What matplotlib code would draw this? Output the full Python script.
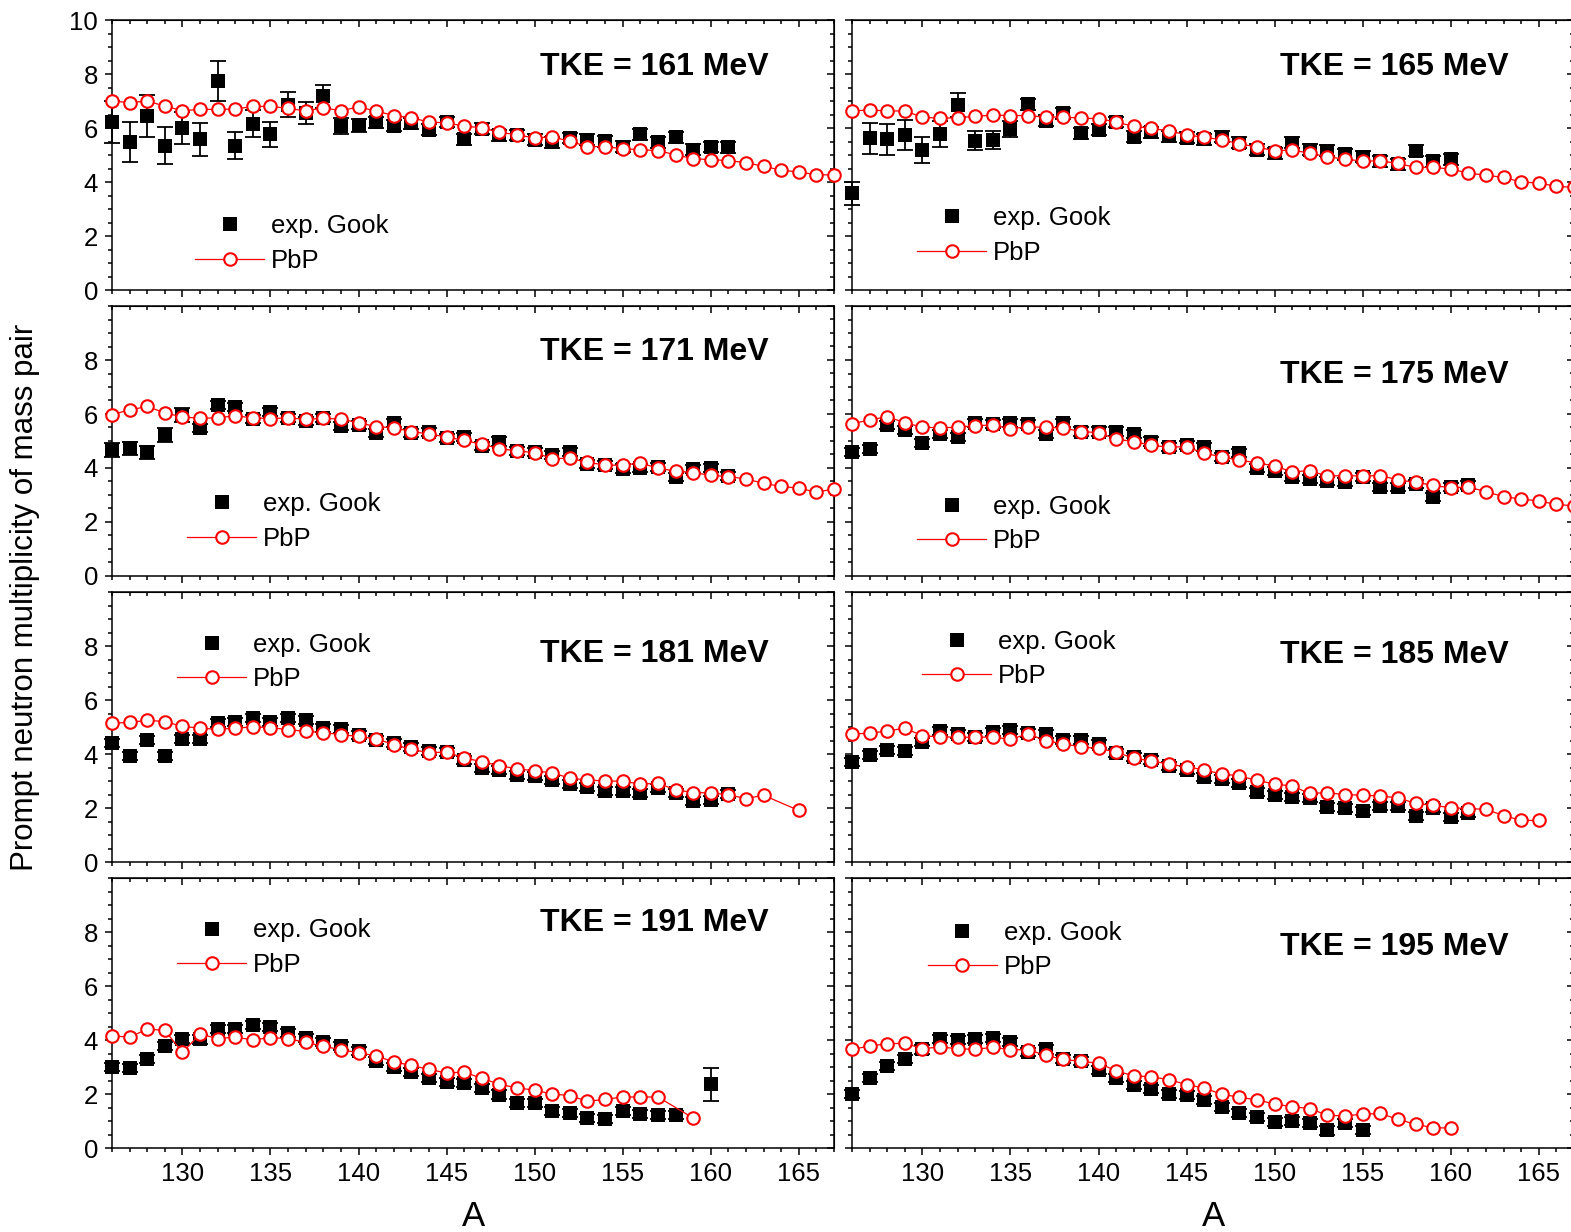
import numpy as np
import matplotlib
matplotlib.use("Agg")
import matplotlib.pyplot as plt
from matplotlib.ticker import MultipleLocator
from matplotlib.lines import Line2D

plt.rcParams['font.family'] = ['Liberation Sans', 'DejaVu Sans']

# ---- TKE = 161 MeV ----
A_161_exp = list(range(126, 162))
nu_161_exp = [6.21, 5.47, 6.44, 5.35, 6.00, 5.58, 7.74, 5.35, 6.16, 5.77, 6.86, 6.56,
              7.17, 6.07, 6.10, 6.21, 6.09, 6.17, 5.93, 6.22, 5.58, 5.98, 5.73, 5.74,
              5.57, 5.47, 5.63, 5.57, 5.51, 5.31, 5.77, 5.47, 5.65, 5.19, 5.30, 5.28]
err_161_exp = [0.78, 0.74, 0.79, 0.70, 0.60, 0.62, 0.73, 0.51, 0.51, 0.47, 0.46, 0.42,
               0.43, 0.30, 0.25] + [0.2] * 21
A_161_pbp = list(range(126, 168))
nu_161_pbp = [7.00, 6.94, 7.00, 6.81, 6.64, 6.69, 6.69, 6.70, 6.80, 6.80, 6.73, 6.63,
              6.75, 6.64, 6.78, 6.63, 6.46, 6.38, 6.22, 6.19, 6.07, 6.01, 5.84, 5.75,
              5.63, 5.67, 5.51, 5.31, 5.31, 5.23, 5.20, 5.16, 5.01, 4.86, 4.83, 4.79,
              4.72, 4.58, 4.44, 4.37, 4.27, 4.26]

# ---- TKE = 165 MeV ----
A_165_exp = list(range(126, 161))
nu_165_exp = [3.58, 5.62, 5.58, 5.74, 5.19, 5.78, 6.85, 5.53, 5.56, 5.95, 6.88, 6.27,
              6.54, 5.80, 5.93, 6.22, 5.68, 5.84, 5.70, 5.64, 5.58, 5.68, 5.46, 5.19,
              5.06, 5.46, 5.19, 5.16, 5.02, 4.94, 4.77, 4.65, 5.16, 4.77, 4.84]
err_165_exp = [0.42, 0.57, 0.57, 0.55, 0.49, 0.47, 0.46, 0.36, 0.33, 0.30] + [0.2] * 25
A_165_pbp = list(range(126, 168))
nu_165_pbp = [6.63, 6.67, 6.63, 6.63, 6.40, 6.36, 6.38, 6.43, 6.48, 6.46, 6.46, 6.40,
              6.41, 6.36, 6.35, 6.22, 6.06, 5.99, 5.89, 5.75, 5.65, 5.57, 5.41, 5.30,
              5.15, 5.19, 5.06, 4.94, 4.84, 4.78, 4.78, 4.69, 4.54, 4.54, 4.48, 4.33,
              4.25, 4.17, 4.00, 3.96, 3.84, 3.80]

# ---- TKE = 171 MeV ----
A_171_exp = list(range(126, 162))
nu_171_exp = [4.67, 4.73, 4.58, 5.23, 5.96, 5.49, 6.33, 6.27, 5.80, 6.09, 5.86, 5.73,
              5.85, 5.56, 5.60, 5.31, 5.65, 5.28, 5.32, 5.11, 5.16, 4.81, 4.98, 4.64,
              4.59, 4.48, 4.60, 4.14, 4.11, 3.98, 4.01, 4.04, 3.67, 3.95, 3.99, 3.70]
err_171_exp = [0.25] * 5 + [0.15] * 31
A_171_pbp = list(range(126, 168))
nu_171_pbp = [5.98, 6.15, 6.28, 6.04, 5.89, 5.84, 5.86, 5.93, 5.86, 5.83, 5.86, 5.80,
              5.84, 5.81, 5.68, 5.53, 5.49, 5.35, 5.26, 5.15, 5.02, 4.88, 4.72, 4.63,
              4.57, 4.35, 4.36, 4.21, 4.11, 4.10, 4.19, 3.99, 3.89, 3.83, 3.73, 3.68,
              3.60, 3.43, 3.32, 3.25, 3.11, 3.22]

# ---- TKE = 175 MeV ----
A_175_exp = list(range(126, 162))
nu_175_exp = [4.58, 4.70, 5.60, 5.41, 4.91, 5.26, 5.16, 5.65, 5.63, 5.68, 5.63, 5.25,
              5.65, 5.35, 5.35, 5.35, 5.26, 4.98, 4.79, 4.84, 4.77, 4.42, 4.54, 3.99,
              3.89, 3.68, 3.60, 3.53, 3.48, 3.65, 3.28, 3.28, 3.41, 2.94, 3.31, 3.36]
err_175_exp = [0.15] * 36
A_175_pbp = list(range(126, 168))
nu_175_pbp = [5.64, 5.78, 5.90, 5.68, 5.51, 5.49, 5.51, 5.57, 5.59, 5.46, 5.52, 5.51,
              5.48, 5.35, 5.31, 5.07, 4.98, 4.84, 4.77, 4.79, 4.54, 4.42, 4.28, 4.20,
              4.07, 3.86, 3.90, 3.70, 3.72, 3.70, 3.72, 3.56, 3.47, 3.36, 3.26, 3.30,
              3.12, 2.94, 2.85, 2.78, 2.65, 2.60]

# ---- TKE = 181 MeV ----
A_181_exp = list(range(126, 162))
nu_181_exp = [4.40, 3.94, 4.53, 3.91, 4.56, 4.56, 5.14, 5.20, 5.33, 5.20, 5.33, 5.27,
              4.96, 4.93, 4.69, 4.53, 4.40, 4.27, 4.11, 4.07, 3.78, 3.49, 3.41, 3.23,
              3.20, 3.04, 2.89, 2.78, 2.64, 2.64, 2.54, 2.73, 2.57, 2.27, 2.30, 2.51]
err_181_exp = [0.15] * 36
A_181_pbp = list(range(126, 164)) + [165]
nu_181_pbp = [5.14, 5.17, 5.25, 5.20, 5.02, 4.96, 4.91, 4.96, 5.00, 4.98, 4.90, 4.84,
              4.79, 4.72, 4.65, 4.56, 4.35, 4.17, 4.05, 4.07, 3.85, 3.72, 3.56, 3.46,
              3.37, 3.31, 3.10, 3.04, 3.00, 2.99, 2.89, 2.91, 2.68, 2.57, 2.56, 2.49,
              2.35, 2.47, 1.91]

# ---- TKE = 185 MeV ----
A_185_exp = list(range(126, 162))
nu_185_exp = [3.72, 3.96, 4.15, 4.11, 4.43, 4.86, 4.73, 4.64, 4.81, 4.90, 4.79, 4.74,
              4.52, 4.52, 4.37, 4.05, 3.88, 3.78, 3.56, 3.41, 3.16, 3.09, 2.91, 2.59,
              2.47, 2.42, 2.36, 2.05, 2.01, 1.90, 2.06, 2.09, 1.72, 2.01, 1.68, 1.80]
err_185_exp = [0.15] * 36
A_185_pbp = list(range(126, 166))
nu_185_pbp = [4.74, 4.77, 4.85, 4.96, 4.67, 4.64, 4.62, 4.62, 4.63, 4.54, 4.75, 4.49,
              4.38, 4.26, 4.21, 4.07, 3.84, 3.75, 3.62, 3.53, 3.41, 3.26, 3.19, 3.02,
              2.89, 2.81, 2.54, 2.57, 2.49, 2.48, 2.44, 2.38, 2.17, 2.10, 2.01, 1.98,
              1.95, 1.72, 1.54, 1.54]

# ---- TKE = 191 MeV ----
A_191_exp = list(range(126, 159)) + [160]
nu_191_exp = [3.01, 2.95, 3.31, 3.78, 4.05, 4.02, 4.40, 4.40, 4.57, 4.47, 4.25, 4.07,
              3.93, 3.78, 3.59, 3.23, 2.99, 2.81, 2.59, 2.44, 2.41, 2.22, 1.98, 1.68,
              1.68, 1.38, 1.31, 1.12, 1.09, 1.37, 1.25, 1.22, 1.22, 2.36]
err_191_exp = [0.15] * 33 + [0.62]
A_191_pbp = list(range(126, 158)) + [159]
nu_191_pbp = [4.15, 4.11, 4.40, 4.36, 3.54, 4.22, 4.05, 4.11, 4.00, 4.09, 4.05, 3.91,
              3.77, 3.64, 3.53, 3.41, 3.19, 3.06, 2.91, 2.78, 2.81, 2.58, 2.36, 2.23,
              2.14, 2.00, 1.94, 1.73, 1.80, 1.89, 1.89, 1.89, 1.11]

# ---- TKE = 195 MeV ----
A_195_exp = list(range(126, 156))
nu_195_exp = [1.99, 2.58, 3.04, 3.28, 3.65, 4.05, 3.99, 4.05, 4.09, 3.93, 3.56, 3.65,
              3.31, 3.22, 2.89, 2.59, 2.35, 2.17, 1.99, 1.95, 1.77, 1.52, 1.31, 1.14,
              0.96, 0.99, 0.94, 0.65, 0.91, 0.67]
err_195_exp = [0.15] * 30
A_195_pbp = list(range(126, 161))
nu_195_pbp = [3.65, 3.78, 3.86, 3.88, 3.68, 3.74, 3.68, 3.65, 3.73, 3.64, 3.64, 3.43,
              3.28, 3.21, 3.14, 2.86, 2.67, 2.64, 2.53, 2.35, 2.22, 1.99, 1.88, 1.78,
              1.63, 1.53, 1.46, 1.21, 1.19, 1.25, 1.28, 1.06, 0.88, 0.75, 0.74]

panels = [
    (161, A_161_exp, nu_161_exp, err_161_exp, A_161_pbp, nu_161_pbp),
    (165, A_165_exp, nu_165_exp, err_165_exp, A_165_pbp, nu_165_pbp),
    (171, A_171_exp, nu_171_exp, err_171_exp, A_171_pbp, nu_171_pbp),
    (175, A_175_exp, nu_175_exp, err_175_exp, A_175_pbp, nu_175_pbp),
    (181, A_181_exp, nu_181_exp, err_181_exp, A_181_pbp, nu_181_pbp),
    (185, A_185_exp, nu_185_exp, err_185_exp, A_185_pbp, nu_185_pbp),
    (191, A_191_exp, nu_191_exp, err_191_exp, A_191_pbp, nu_191_pbp),
    (195, A_195_exp, nu_195_exp, err_195_exp, A_195_pbp, nu_195_pbp),
]

# label y-position of the TKE text, legend anchor (axes coords)
tke_y = [0.825, 0.825, 0.83, 0.745, 0.77, 0.766, 0.833, 0.745]
leg_xy = [(0.115, 0.28), (0.090, 0.31), (0.104, 0.31), (0.090, 0.30),
          (0.090, 0.85), (0.097, 0.86), (0.090, 0.85), (0.105, 0.84)]

W, H = 1571, 1232
fig = plt.figure(figsize=(W / 100, H / 100), dpi=100)

col_left = [112, 852]
row_top = [20, 306, 592, 878]
ax_w, ax_h = 722, 270

for i, (tke, ae, ne, ee, ap, npb) in enumerate(panels):
    r, c = divmod(i, 2)
    ax = fig.add_axes([col_left[c] / W, 1 - (row_top[r] + ax_h) / H, ax_w / W, ax_h / H])

    eb = ax.errorbar(ae, ne, yerr=ee, fmt='none', ecolor='black',
                     elinewidth=1.3, capsize=6, capthick=1.3, zorder=2)
    for art in eb.lines[1] + eb.lines[2]:
        art.set_clip_on(False)
    ax.plot(ae, ne, 's', color='black', ms=10.5, mew=0, zorder=2, clip_on=False)
    ax.plot(ap, npb, '-o', color='red', lw=0.9, ms=9, mew=1.5, mfc='white',
            mec='red', zorder=3, clip_on=False)

    ax.set_xlim(126, 167)
    ax.set_ylim(0, 10)
    for s in ax.spines.values():
        s.set_linewidth(1.1)

    ax.xaxis.set_major_locator(MultipleLocator(5))
    ax.xaxis.set_minor_locator(MultipleLocator(1))
    ax.yaxis.set_major_locator(MultipleLocator(2))
    ax.yaxis.set_minor_locator(MultipleLocator(0.5))
    ax.tick_params(which='both', direction='out', top=False, right=False,
                   labelsize=18.5, width=1.1)
    ax.tick_params(which='major', length=5, pad=5)
    ax.tick_params(which='minor', length=3)

    # mirrored ticks pointing inward on top and right
    top = ax.secondary_xaxis('top')
    top.xaxis.set_major_locator(MultipleLocator(5))
    top.xaxis.set_minor_locator(MultipleLocator(1))
    top.tick_params(which='both', direction='in', labeltop=False, width=1.1)
    top.tick_params(which='major', length=5)
    top.tick_params(which='minor', length=3)
    right = ax.secondary_yaxis('right')
    right.yaxis.set_major_locator(MultipleLocator(2))
    right.yaxis.set_minor_locator(MultipleLocator(0.5))
    right.tick_params(which='both', direction='in', labelright=False, width=1.1)
    right.tick_params(which='major', length=5)
    right.tick_params(which='minor', length=3)

    if c == 1:
        ax.tick_params(labelleft=False)
    elif r > 0:
        ax.set_yticks([0, 2, 4, 6, 8])
    if r < 3:
        ax.tick_params(labelbottom=False)

    ax.text(0.751, tke_y[i], f'TKE = {tke} MeV', transform=ax.transAxes,
            ha='center', va='center', fontsize=23, fontweight='bold')

    handles = [
        Line2D([], [], ls='none', marker='s', color='black', ms=10.5, mew=0),
        Line2D([], [], ls='-', lw=0.9, color='red', marker='o', ms=9, mew=1.5,
               mfc='white', mec='red'),
    ]
    ax.legend(handles, ['exp. Gook', 'PbP'], loc='upper left',
              bbox_to_anchor=leg_xy[i], frameon=False, fontsize=18.5,
              handlelength=2.7, handletextpad=0.25, labelspacing=0.4,
              borderpad=0, borderaxespad=0)

fig.text(25 / W, 1 - 597 / H, 'Prompt neutron multiplicity of mass pair',
         rotation=90, ha='center', va='center', fontsize=22.5)
fig.text(473 / W, 1 - 1217 / H, 'A', ha='center', va='center', fontsize=25)
fig.text(1213 / W, 1 - 1217 / H, 'A', ha='center', va='center', fontsize=25)

fig.savefig('out.png', dpi=100)
